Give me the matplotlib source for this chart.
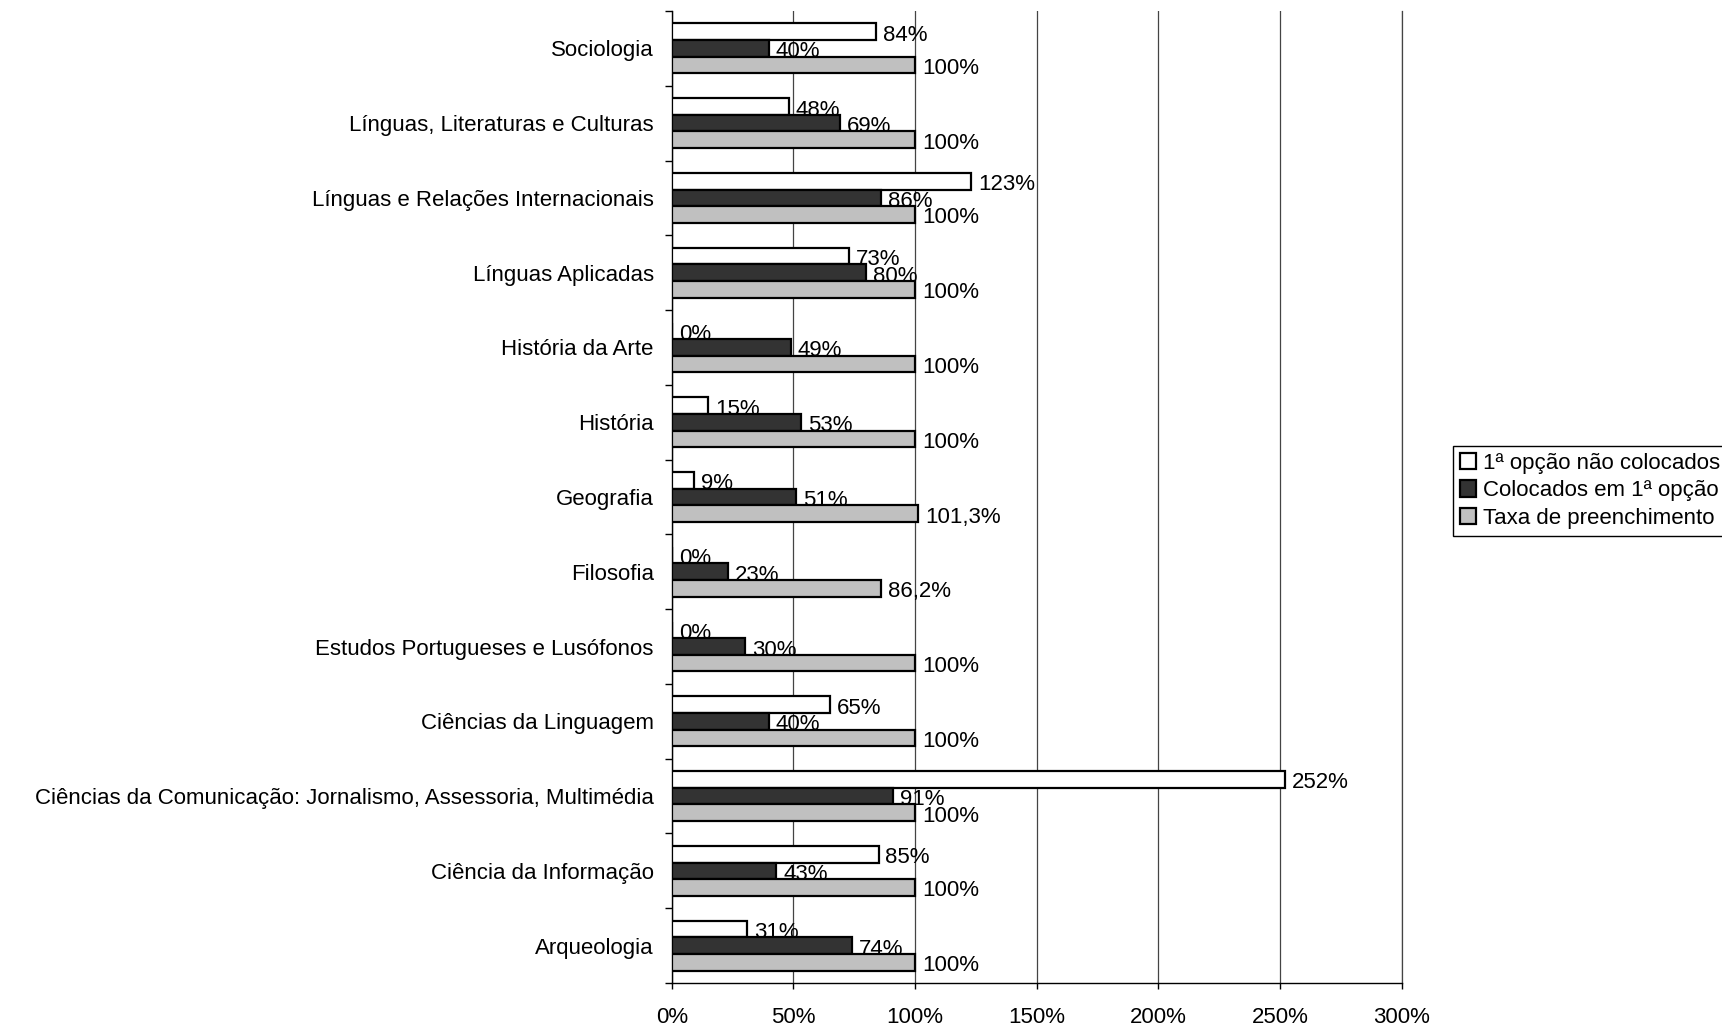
import matplotlib
matplotlib.use("Agg")
import matplotlib.pyplot as plt
import numpy as np

plt.rcParams['font.family'] = ['Liberation Sans', 'DejaVu Sans']

# Courses, listed top to bottom
courses = [
    "Sociologia",
    "Línguas, Literaturas e Culturas",
    "Línguas e Relações Internacionais",
    "Línguas Aplicadas",
    "História da Arte",
    "História",
    "Geografia",
    "Filosofia",
    "Estudos Portugueses e Lusófonos",
    "Ciências da Linguagem",
    "Ciências da Comunicação: Jornalismo, Assessoria, Multimédia",
    "Ciência da Informação",
    "Arqueologia",
]

nao_colocados = [84, 48, 123, 73, 0, 15, 9, 0, 0, 65, 252, 85, 31]
colocados_1a = [40, 69, 86, 80, 49, 53, 51, 23, 30, 40, 91, 43, 74]
preenchimento = [100, 100, 100, 100, 100, 100, 101.3, 86.2, 100, 100, 100, 100, 100]

series_names = ["1ª opção não colocados", "Colocados em 1ª opção", "Taxa de preenchimento"]
series_colors = ["#ffffff", "#333333", "#c0c0c0"]

x_ticks = [0, 50, 100, 150, 200, 250, 300]
x_ticklabels = ["0%", "50%", "100%", "150%", "200%", "250%", "300%"]

FS = 16


def fmt(v):
    if float(v).is_integer():
        return f"{int(v)}%"
    return f"{v:.1f}%".replace(".", ",")


fig = plt.figure(figsize=(17.22, 10.29), dpi=100)
ax = fig.add_axes([671.7 / 1722, 1 - 983 / 1029, (1401.7 - 671.7) / 1722, (983 - 11) / 1029])

n = len(courses)
centers = np.arange(n)[::-1].astype(float)  # first course at the top
h = 0.222
offsets = [-h, 0.0, h]  # white above, dark in the middle, grey below

all_series = [nao_colocados, colocados_1a, preenchimento]
for vals, off, col, name in zip(all_series, offsets, series_colors, series_names):
    ys = centers - off
    ax.barh(ys, vals, height=h, color=col, edgecolor="black", linewidth=1.6,
            label=name, zorder=3)
    for y, v in zip(ys, vals):
        ax.annotate(fmt(v), xy=(v, y), xytext=(5, -2.5), textcoords="offset points",
                    ha="left", va="center", fontsize=FS, color="black", zorder=4)

ax.set_xlim(0, 300)
ax.set_ylim(-0.5, n - 0.5)

ax.set_xticks(x_ticks)
ax.set_xticklabels(x_ticklabels, fontsize=FS)
ax.tick_params(axis="x", direction="out", length=4, width=1, pad=13)

ax.set_yticks(centers)
ax.set_yticklabels(courses, fontsize=FS)
ax.set_yticks(np.arange(n + 1) - 0.5, minor=True)
ax.tick_params(axis="y", which="major", length=0, pad=13)
ax.tick_params(axis="y", which="minor", length=5, width=1, direction="out")

ax.grid(axis="x", color="#444444", linewidth=0.9, zorder=0)
ax.set_axisbelow(True)
# gridline at the right-hand limit, kept whole rather than half clipped
ax.axvline(x_ticks[-1], color="#444444", linewidth=0.9, zorder=0, clip_on=False)

for side in ["top", "right"]:
    ax.spines[side].set_visible(False)
for side in ["left", "bottom"]:
    ax.spines[side].set_linewidth(1.0)
    ax.spines[side].set_color("black")

leg = fig.legend(loc="upper left", bbox_to_anchor=(1453 / 1722, 1 - 446 / 1029),
                 fontsize=FS, frameon=True, fancybox=False, framealpha=1,
                 edgecolor="black", handlelength=0.75, handleheight=0.75,
                 handletextpad=0.3, labelspacing=0.3, borderpad=0.3,
                 borderaxespad=0)
leg.get_frame().set_linewidth(1.0)
for patch in leg.get_patches():
    patch.set_linewidth(1.6)

fig.savefig("out.png", dpi=100)
